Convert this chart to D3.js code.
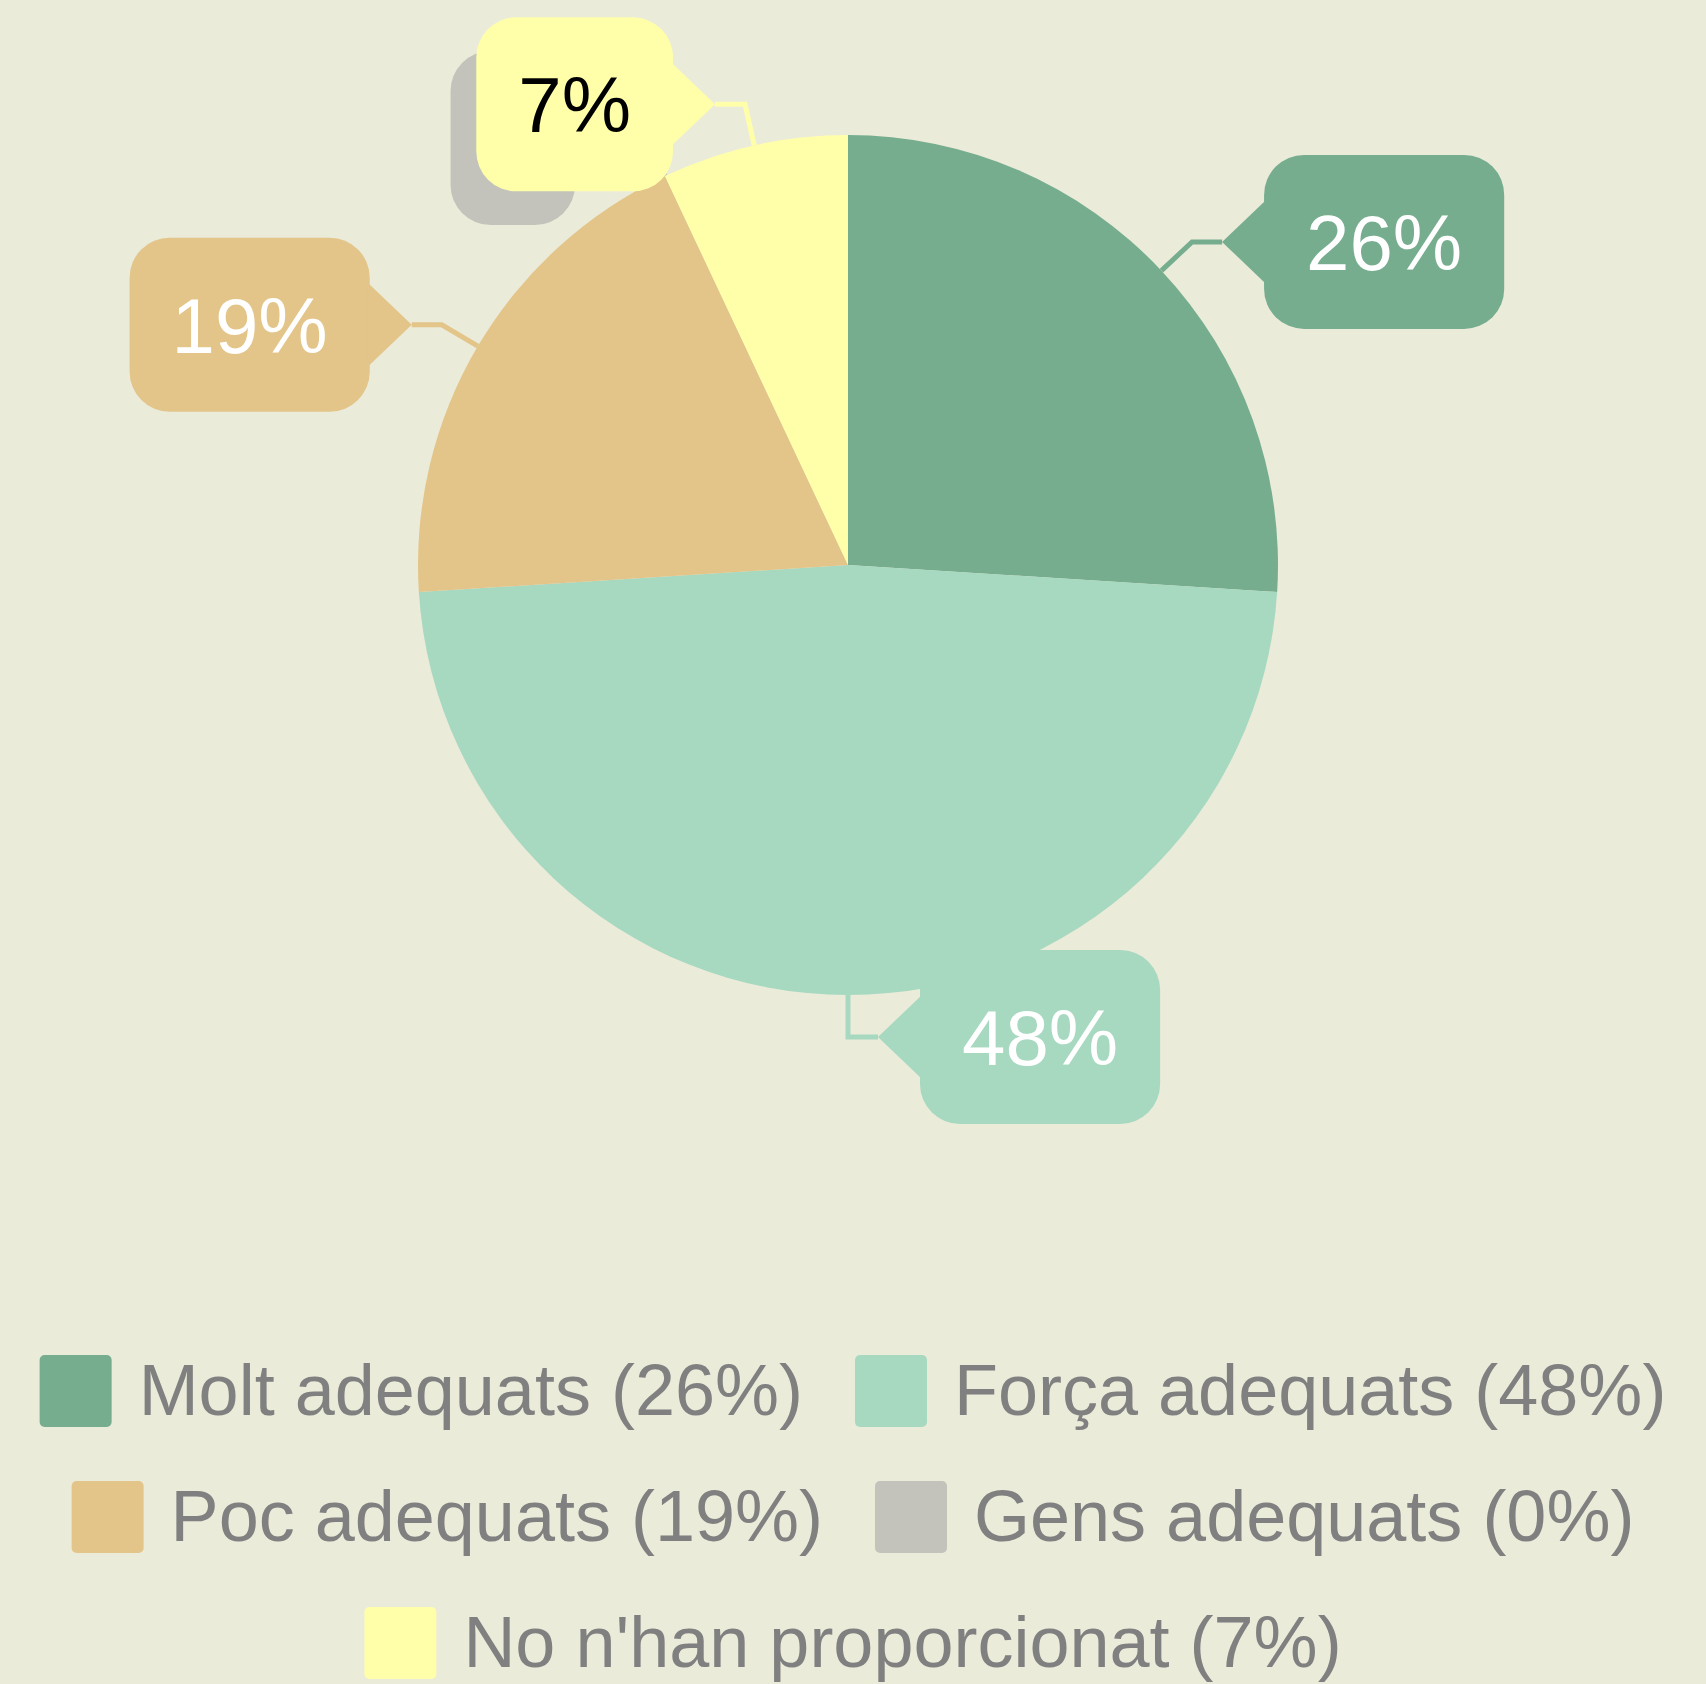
<!DOCTYPE html>
<html>
<head>
<meta charset="utf-8">
<script src="https://cdn.jsdelivr.net/npm/d3@7"></script>
<style>
  html, body { margin: 0; padding: 0; background: #EBEBDA; }
  svg { display: block; }
  text { font-family: "Liberation Sans", Arial, Helvetica, sans-serif; }
</style>
</head>
<body>
<script>
const categories = ["Molt adequats", "Força adequats", "Poc adequats", "Gens adequats", "No n'han proporcionat"];
const values = [26, 48, 19, 0, 7];
const colors = ["#76AD8E", "#A7D8C0", "#E3C489", "#C3C3BB", "#FFFFAA"];
const textColors = ["#FFFFFF", "#FFFFFF", "#FFFFFF", "#FFFFFF", "#000000"];

const W = 1706, H = 1684;
const cx = 848, cy = 565, R = 430;

const svg = d3.select("body").append("svg")
  .attr("width", W).attr("height", H);

svg.append("rect").attr("width", W).attr("height", H).attr("fill", "#EBEBDA");

const data = categories.map((c, i) => ({ name: c, value: values[i], color: colors[i], tc: textColors[i] }));

const pie = d3.pie().value(d => d.value).sort(null).startAngle(0).endAngle(2 * Math.PI);
const arcs = pie(data);
const arc = d3.arc().innerRadius(0).outerRadius(R);

const g = svg.append("g").attr("transform", `translate(${cx},${cy})`);
g.selectAll("path.slice").data(arcs).enter().append("path")
  .attr("class", "slice")
  .attr("d", arc)
  .attr("fill", d => d.data.color);

// callout labels
const labels = svg.append("g");
const boxH = 174, rad = 40, ptr = 42, elbowOut = 42, horiz = 30;
arcs.forEach(a => {
  const ang = (a.startAngle + a.endAngle) / 2;
  const s = Math.sin(ang), c = Math.cos(ang);
  const edge = [cx + R * s, cy - R * c];
  const elbow = [cx + (R + elbowOut) * s, cy - (R + elbowOut) * c];
  const side = s >= -1e-9 ? 1 : -1;
  const tip = [elbow[0] + side * horiz, elbow[1]];
  const lg = labels.append("g");
  lg.append("polyline")
    .attr("points", [edge, elbow, tip].map(p => p.join(",")).join(" "))
    .attr("fill", "none").attr("stroke", a.data.color)
    .attr("stroke-width", 5).attr("stroke-linejoin", "miter");
  const fs = a.data.value === 0 ? 28 : 78;
  const txt = lg.append("text")
    .text(a.data.value + "%")
    .attr("font-size", fs)
    .attr("fill", a.data.tc)
    .attr("text-anchor", "middle");
  const tw = txt.node().getComputedTextLength();
  const bw = tw + 84;
  const edgeX = tip[0] + side * ptr;
  const bx = side > 0 ? edgeX : edgeX - bw;
  const by = tip[1] - boxH / 2;
  lg.insert("rect", "text")
    .attr("x", bx).attr("y", by).attr("width", bw).attr("height", boxH)
    .attr("rx", rad).attr("ry", rad).attr("fill", a.data.color);
  lg.insert("polygon", "text")
    .attr("points", [[tip[0], tip[1]], [edgeX + side * 2, tip[1] - ptr], [edgeX + side * 2, tip[1] + ptr]].map(p => p.join(",")).join(" "))
    .attr("fill", a.data.color);
  txt.attr("x", bx + bw / 2).attr("y", tip[1] + 0.358 * 78 * (fs / 78));
});

// legend
const legend = svg.append("g");
const sw = 72, gapST = 27, gapItems = 52, rowH = 126, legTop = 1355, maxRow = 1660, fsL = 72;
const items = data.map(d => {
  const ig = legend.append("g");
  ig.append("rect").attr("width", sw).attr("height", sw).attr("rx", 5).attr("ry", 5).attr("fill", d.color);
  const t = ig.append("text").text(`${d.name} (${d.value}%)`)
    .attr("x", sw + gapST).attr("y", 60)
    .attr("font-size", fsL).attr("fill", "#808080");
  const w = sw + gapST + t.node().getComputedTextLength();
  return { g: ig, w };
});
const rows = [];
let cur = [], curW = 0;
items.forEach(it => {
  const add = cur.length ? gapItems + it.w : it.w;
  if (cur.length && curW + add > maxRow) { rows.push({ items: cur, w: curW }); cur = [it]; curW = it.w; }
  else { cur.push(it); curW += add; }
});
if (cur.length) rows.push({ items: cur, w: curW });
rows.forEach((r, ri) => {
  let x = 853 - r.w / 2;
  r.items.forEach(it => {
    it.g.attr("transform", `translate(${x},${legTop + ri * rowH})`);
    x += it.w + gapItems;
  });
});
</script>
</body>
</html>
